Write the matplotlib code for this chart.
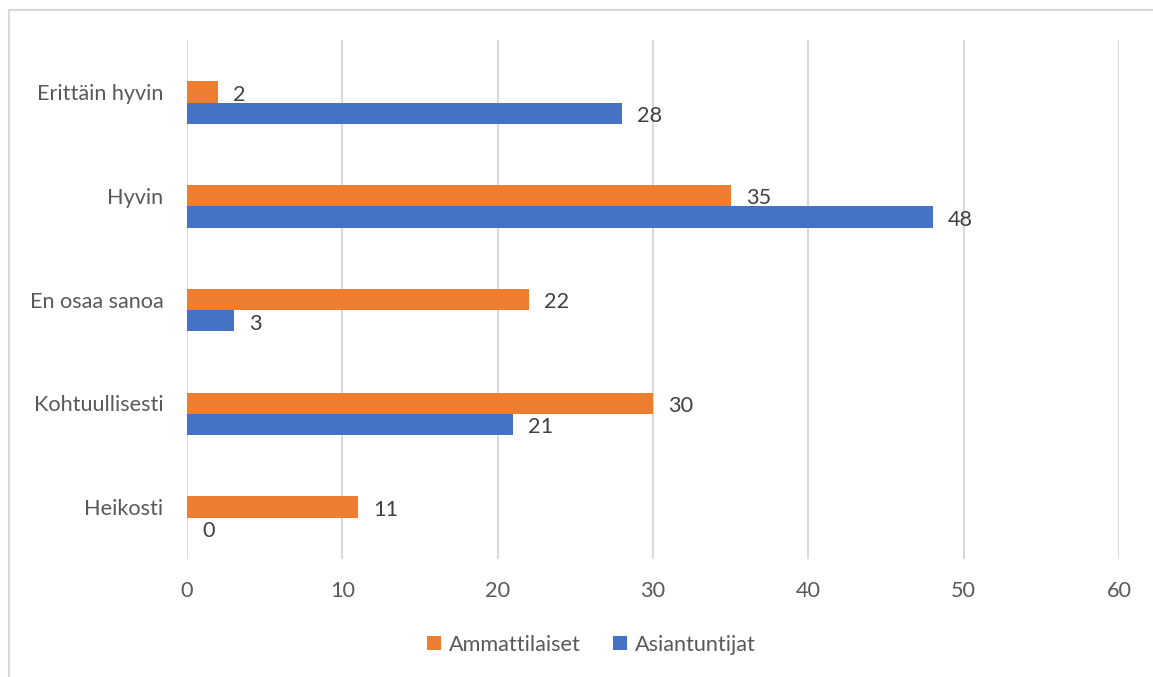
import matplotlib.pyplot as plt
from matplotlib.patches import Rectangle
import numpy as np

categories = ["Erittäin hyvin", "Hyvin", "En osaa sanoa", "Kohtuullisesti", "Heikosti"]
ammattilaiset = [2, 35, 22, 30, 11]
asiantuntijat = [28, 48, 3, 21, 0]
series_names = ["Ammattilaiset", "Asiantuntijat"]
x_ticks = [0, 10, 20, 30, 40, 50, 60]

ORANGE = "#ED7D31"
BLUE = "#4472C4"
TEXT = "#595959"
LABEL = "#404040"
GRID = "#d9d9d9"
FS = 15.6


def main():
    plt.rcParams["font.family"] = ["Lato", "DejaVu Sans"]

    fig = plt.figure(figsize=(11.53, 6.77), dpi=100)
    ax = fig.add_axes([0.1622, 0.1743, 0.8083, 0.7666])

    # outer chart frame
    fig.patches.append(
        Rectangle((9 / 1153, -0.05), 1.2, 1 - 10 / 677 + 0.05,
                  transform=fig.transFigure, fill=False,
                  edgecolor=GRID, linewidth=1.5)
    )

    y = np.arange(len(categories))
    h = 0.205
    b1 = ax.barh(y, ammattilaiset, height=h, color=ORANGE, label=series_names[0])
    b2 = ax.barh(y + h, asiantuntijat, height=h, color=BLUE, label=series_names[1])

    for bars, vals in ((b1, ammattilaiset), (b2, asiantuntijat)):
        for bar, v in zip(bars, vals):
            ax.annotate(str(v), (v, bar.get_y() + bar.get_height() / 2),
                        xytext=(11, -2), textcoords="offset points",
                        ha="left", va="center", fontsize=FS, color=LABEL)

    ax.set_xlim(0, 60)
    ax.set_ylim(len(categories) - 0.5, -0.5)
    ax.set_xticks(x_ticks)
    ax.set_yticks(y)
    ax.set_yticklabels(categories)
    ax.tick_params(axis="both", length=0, labelsize=FS, labelcolor=TEXT)
    ax.tick_params(axis="x", pad=16)
    ax.tick_params(axis="y", pad=17)

    ax.grid(axis="x", color=GRID, linewidth=1.5)
    ax.set_axisbelow(True)
    for s in ax.spines.values():
        s.set_visible(False)

    leg = fig.legend(loc="center", bbox_to_anchor=(0.513, 0.048), ncol=2,
                     frameon=False, fontsize=FS, handlelength=0.65,
                     handleheight=0.65, columnspacing=1.5, handletextpad=0.35)
    for t in leg.get_texts():
        t.set_color(TEXT)

    fig.savefig("out.png", dpi=100)


if __name__ == "__main__":
    main()
